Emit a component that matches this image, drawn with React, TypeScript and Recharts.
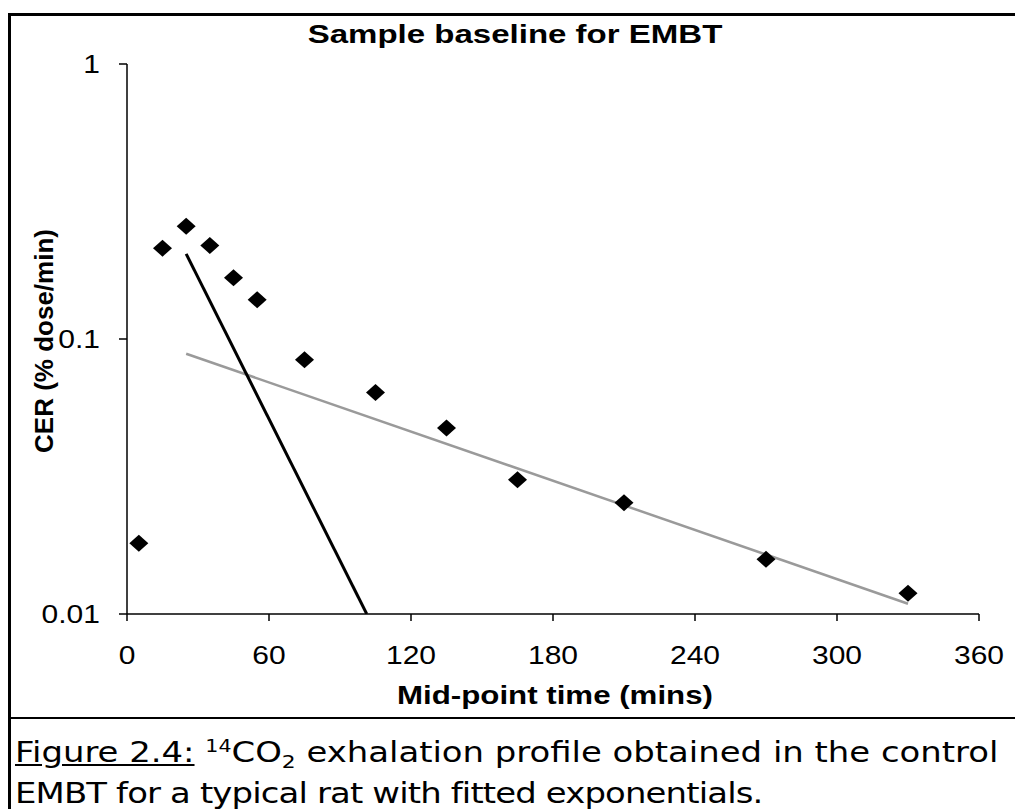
import { ComposedChart, Scatter, Line, XAxis, YAxis } from 'recharts'

// mid-point time (mins) and CER (% dose/min) for each collection
const midTimes = [5, 15, 25, 35, 45, 55, 75, 105, 135, 165, 210, 270, 330]
const cerValues = [0.0181, 0.214, 0.257, 0.219, 0.167, 0.139, 0.0841, 0.0639, 0.0475, 0.0308, 0.0254, 0.0158, 0.0119]

// fitted exponentials (straight on a log axis)
const fastFitTimes = [25, 101.3]
const fastFitValues = [0.204, 0.01]
const slowFitTimes = [25, 330]
const slowFitValues = [0.0884, 0.0109]

const xTicks = [0, 60, 120, 180, 240, 300, 360]
const yTicks = [0.01, 0.1, 1]

const points = midTimes.map((t, i) => ({ x: t, y: cerValues[i] }))
const fastFit = fastFitTimes.map((t, i) => ({ x: t, y: fastFitValues[i] }))
const slowFit = slowFitTimes.map((t, i) => ({ x: t, y: slowFitValues[i] }))

const ARIAL = '"Liberation Sans", Arial, Helvetica, sans-serif'
const STRETCH = 1.2

const Diamond = (props: any) => {
  const { cx, cy } = props
  if (cx == null || cy == null) return null
  return <polygon points={`${cx - 9.5},${cy} ${cx},${cy - 8.5} ${cx + 9.5},${cy} ${cx},${cy + 8.5}`} fill="#000" />
}

const XTick = (props: any) => {
  const { x, y, payload } = props
  return (
    <g transform={`translate(${x},${y}) scale(${STRETCH},1)`}>
      <text x={0} y={0} dy={35} textAnchor="middle" fontFamily={ARIAL} fontSize={25} fill="#000">
        {payload.value}
      </text>
    </g>
  )
}

const YTick = (props: any) => {
  const { x, y, payload } = props
  return (
    <g transform={`translate(${x},${y}) scale(${STRETCH},1)`}>
      <text x={0} y={0} dy={9} textAnchor="end" fontFamily={ARIAL} fontSize={25} fill="#000">
        {payload.value}
      </text>
    </g>
  )
}

export default function App() {
  return (
    <div style={{ position: 'relative', width: 1015, height: 801, background: '#fff', overflow: 'hidden' }}>
      <div style={{ position: 'absolute', left: 0, top: 5, width: 1015, height: 3, background: '#000' }} />
      <div style={{ position: 'absolute', left: 0, top: 5, width: 3, height: 796, background: '#000' }} />
      <div style={{ position: 'absolute', left: 0, top: 709, width: 1015, height: 2, background: '#000' }} />

      <div style={{ position: 'absolute', left: 0, top: 0 }}>
        <ComposedChart width={1015} height={720} margin={{ top: 56, right: 44, bottom: 0, left: 0 }}>
          <XAxis
            type="number"
            dataKey="x"
            domain={[0, 360]}
            ticks={xTicks}
            allowDataOverflow
            height={114}
            tickSize={7}
            tickMargin={8}
            stroke="#000"
            strokeWidth={1.5}
            tick={<XTick />}
          />
          <YAxis
            type="number"
            dataKey="y"
            scale="log"
            domain={[0.01, 1]}
            ticks={yTicks}
            allowDataOverflow
            width={119}
            tickSize={8}
            tickMargin={19}
            stroke="#000"
            strokeWidth={1.5}
            tick={<YTick />}
          />
          <Line data={slowFit} dataKey="y" stroke="#9a9a9a" strokeWidth={2.5} dot={false} isAnimationActive={false} />
          <Line data={fastFit} dataKey="y" stroke="#000" strokeWidth={3} dot={false} isAnimationActive={false} />
          <Scatter data={points} dataKey="y" shape={<Diamond />} isAnimationActive={false} />
        </ComposedChart>
      </div>

      <div
        style={{
          position: 'absolute', left: 507, top: 11, transform: `translateX(-50%) scaleX(1.27)`,
          fontFamily: ARIAL, fontWeight: 'bold', fontSize: 26, whiteSpace: 'nowrap', color: '#000',
        }}
      >
        Sample baseline for EMBT
      </div>

      <div
        style={{
          position: 'absolute', left: 36, top: 333, transform: 'translate(-50%, -50%) rotate(-90deg)',
          fontFamily: ARIAL, fontWeight: 'bold', fontSize: 26, whiteSpace: 'nowrap', color: '#000',
        }}
      >
        CER (% dose/min)
      </div>

      <div
        style={{
          position: 'absolute', left: 547, top: 673, transform: `translateX(-50%) scaleX(1.25)`,
          fontFamily: ARIAL, fontWeight: 'bold', fontSize: 25, whiteSpace: 'nowrap', color: '#000',
        }}
      >
        Mid-point time (mins)
      </div>

      <div
        style={{
          position: 'absolute', left: 7, top: 726, transform: 'scaleX(1.21)', transformOrigin: '0 0',
          fontFamily: '"DejaVu Sans", Verdana, sans-serif',
          fontSize: 28, lineHeight: '38px', color: '#000', whiteSpace: 'nowrap',
        }}
      >
        <span style={{ textDecoration: 'underline' }}>Figure 2.4:</span>{' '}
        <sup style={{ fontSize: 17, verticalAlign: 'top', lineHeight: '24px' }}>14</sup>CO
        <sub style={{ fontSize: 18, verticalAlign: 'baseline', position: 'relative', top: 6 }}>2</sub> exhalation profile obtained in the control
        <br />
        <span style={{ letterSpacing: -0.7 }}>EMBT for a typical rat with fitted exponentials.</span>
      </div>
    </div>
  )
}
